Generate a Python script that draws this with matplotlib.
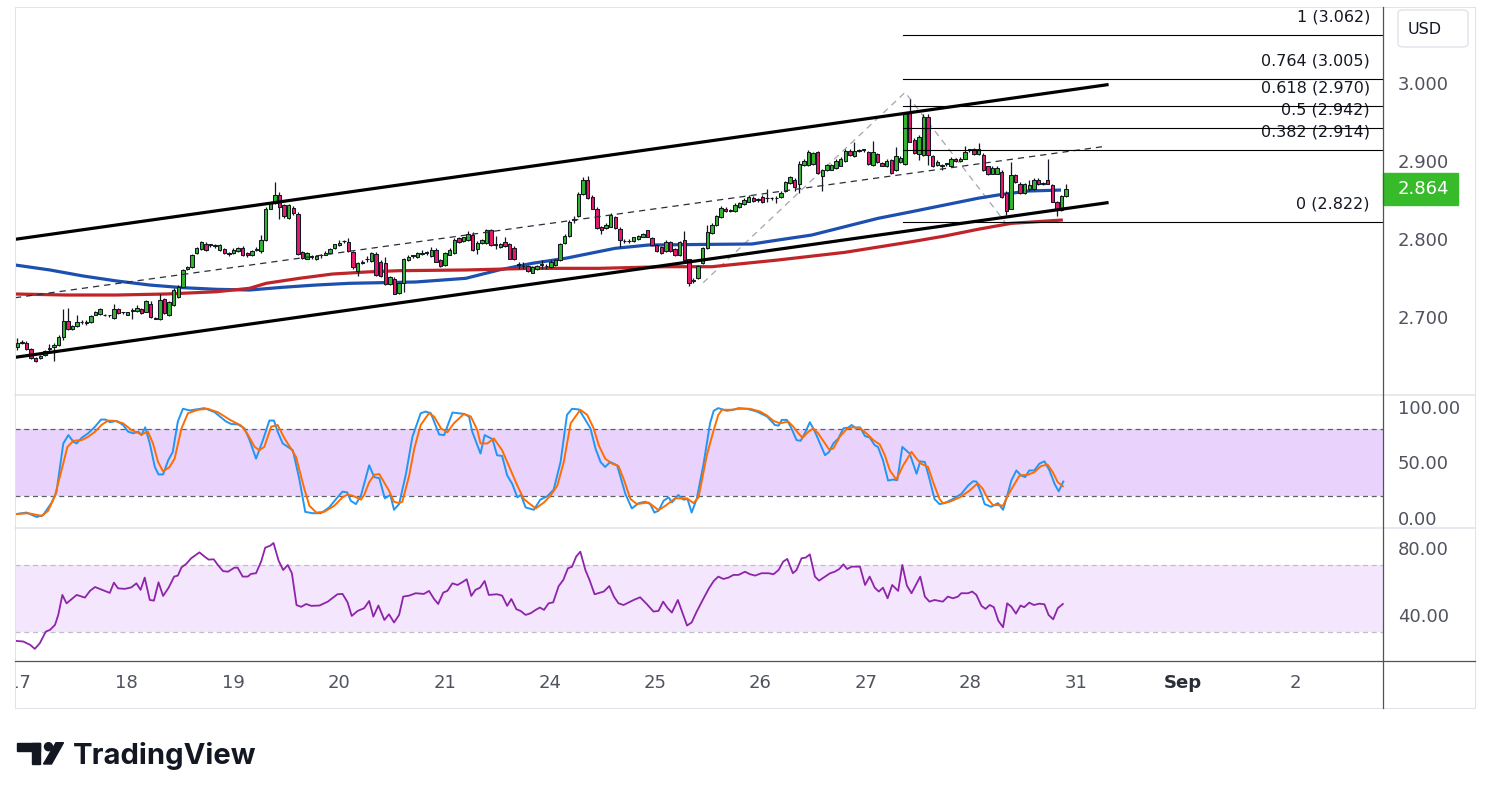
import numpy as np
import matplotlib.pyplot as plt
from matplotlib.patches import Rectangle, FancyBboxPatch, Ellipse, Polygon
from matplotlib.lines import Line2D
from matplotlib.transforms import blended_transform_factory, Bbox, TransformedBbox

W, H = 1491, 799

# hourly candles, Aug 17 -> Aug 28
opens = [2.662, 2.667, 2.667, 2.659, 2.648, 2.648, 2.651, 2.659, 2.661, 2.664,
         2.675, 2.695, 2.684, 2.688, 2.694, 2.692, 2.693, 2.703, 2.704, 2.703,
         2.702, 2.699, 2.710, 2.706, 2.703, 2.708, 2.708, 2.710, 2.707, 2.717,
         2.699, 2.697, 2.723, 2.702, 2.715, 2.726, 2.739, 2.761, 2.764, 2.782,
         2.787, 2.793, 2.792, 2.791, 2.786, 2.787, 2.781, 2.782, 2.784, 2.789,
         2.782, 2.779, 2.786, 2.784, 2.799, 2.839, 2.846, 2.857, 2.843, 2.827,
         2.840, 2.832, 2.783, 2.775, 2.777, 2.774, 2.779, 2.780, 2.782, 2.788,
         2.792, 2.797, 2.796, 2.783, 2.759, 2.769, 2.774, 2.772, 2.781, 2.771,
         2.769, 2.742, 2.749, 2.731, 2.743, 2.773, 2.778, 2.777, 2.781, 2.782,
         2.778, 2.786, 2.773, 2.767, 2.780, 2.782, 2.801, 2.797, 2.799, 2.805,
         2.787, 2.795, 2.795, 2.811, 2.792, 2.790, 2.796, 2.793, 2.789, 2.767,
         2.765, 2.765, 2.757, 2.761, 2.767, 2.765, 2.764, 2.767, 2.773, 2.795,
         2.804, 2.825, 2.829, 2.858, 2.876, 2.854, 2.839, 2.815, 2.814, 2.816,
         2.828, 2.813, 2.797, 2.797, 2.797, 2.800, 2.803, 2.811, 2.801, 2.792,
         2.790, 2.784, 2.796, 2.787, 2.779, 2.799, 2.774, 2.746, 2.750, 2.769,
         2.788, 2.808, 2.818, 2.828, 2.839, 2.836, 2.836, 2.841, 2.845, 2.848,
         2.853, 2.850, 2.854, 2.852, 2.852, 2.852, 2.854, 2.861, 2.872, 2.876,
         2.870, 2.895, 2.895, 2.896, 2.911, 2.881, 2.888, 2.889, 2.891, 2.894,
         2.900, 2.913, 2.906, 2.913, 2.914, 2.911, 2.895, 2.909, 2.898, 2.893,
         2.901, 2.888, 2.899, 2.896, 2.963, 2.927, 2.909, 2.908, 2.957, 2.906,
         2.895, 2.894, 2.896, 2.893, 2.903, 2.900, 2.903, 2.914, 2.916, 2.909,
         2.908, 2.893, 2.884, 2.884, 2.886, 2.859, 2.839, 2.882, 2.871, 2.859,
         2.864, 2.864, 2.876, 2.871, 2.876, 2.869, 2.848, 2.837, 2.855]
highs = [2.673, 2.670, 2.669, 2.660, 2.649, 2.651, 2.658, 2.666, 2.667, 2.677,
         2.710, 2.712, 2.690, 2.702, 2.696, 2.696, 2.703, 2.708, 2.712, 2.704,
         2.703, 2.717, 2.711, 2.707, 2.707, 2.711, 2.715, 2.712, 2.722, 2.720,
         2.700, 2.729, 2.725, 2.721, 2.737, 2.741, 2.762, 2.766, 2.781, 2.790,
         2.798, 2.796, 2.794, 2.793, 2.794, 2.789, 2.783, 2.788, 2.790, 2.791,
         2.783, 2.786, 2.790, 2.805, 2.841, 2.848, 2.873, 2.860, 2.845, 2.845,
         2.842, 2.834, 2.784, 2.783, 2.779, 2.779, 2.781, 2.784, 2.789, 2.794,
         2.799, 2.799, 2.801, 2.784, 2.771, 2.773, 2.778, 2.783, 2.783, 2.773,
         2.777, 2.753, 2.751, 2.745, 2.776, 2.779, 2.780, 2.783, 2.786, 2.784,
         2.790, 2.788, 2.775, 2.783, 2.788, 2.801, 2.802, 2.803, 2.810, 2.809,
         2.797, 2.800, 2.813, 2.813, 2.804, 2.795, 2.802, 2.795, 2.791, 2.771,
         2.770, 2.767, 2.766, 2.767, 2.773, 2.768, 2.773, 2.775, 2.795, 2.806,
         2.824, 2.829, 2.860, 2.880, 2.881, 2.856, 2.841, 2.817, 2.820, 2.833,
         2.830, 2.815, 2.800, 2.800, 2.803, 2.805, 2.808, 2.812, 2.802, 2.793,
         2.791, 2.799, 2.797, 2.788, 2.797, 2.810, 2.775, 2.750, 2.767, 2.790,
         2.818, 2.820, 2.831, 2.842, 2.841, 2.838, 2.846, 2.848, 2.852, 2.856,
         2.855, 2.852, 2.856, 2.864, 2.854, 2.855, 2.861, 2.875, 2.881, 2.878,
         2.900, 2.902, 2.914, 2.912, 2.913, 2.890, 2.896, 2.896, 2.902, 2.905,
         2.915, 2.915, 2.925, 2.916, 2.916, 2.913, 2.926, 2.910, 2.899, 2.902,
         2.903, 2.918, 2.906, 2.963, 2.979, 2.929, 2.933, 2.960, 2.960, 2.908,
         2.901, 2.896, 2.898, 2.905, 2.904, 2.905, 2.919, 2.916, 2.917, 2.923,
         2.910, 2.894, 2.893, 2.893, 2.888, 2.861, 2.899, 2.884, 2.873, 2.872,
         2.876, 2.878, 2.878, 2.873, 2.903, 2.871, 2.849, 2.857, 2.870]
lows = [2.658, 2.665, 2.658, 2.646, 2.642, 2.646, 2.650, 2.655, 2.643, 2.663,
        2.670, 2.683, 2.683, 2.687, 2.691, 2.690, 2.692, 2.702, 2.703, 2.701,
        2.700, 2.698, 2.704, 2.704, 2.702, 2.697, 2.707, 2.704, 2.706, 2.699,
        2.697, 2.696, 2.704, 2.701, 2.714, 2.725, 2.738, 2.760, 2.763, 2.781,
        2.786, 2.785, 2.790, 2.789, 2.785, 2.781, 2.778, 2.781, 2.783, 2.778,
        2.777, 2.778, 2.784, 2.782, 2.798, 2.838, 2.845, 2.826, 2.827, 2.826,
        2.831, 2.780, 2.775, 2.774, 2.775, 2.773, 2.776, 2.779, 2.781, 2.787,
        2.791, 2.795, 2.783, 2.762, 2.752, 2.768, 2.770, 2.771, 2.753, 2.751,
        2.741, 2.741, 2.729, 2.730, 2.732, 2.772, 2.776, 2.776, 2.780, 2.780,
        2.777, 2.770, 2.764, 2.766, 2.779, 2.781, 2.795, 2.796, 2.798, 2.785,
        2.781, 2.794, 2.794, 2.791, 2.787, 2.789, 2.790, 2.774, 2.773, 2.761,
        2.762, 2.758, 2.756, 2.760, 2.762, 2.762, 2.763, 2.766, 2.772, 2.794,
        2.803, 2.821, 2.828, 2.857, 2.851, 2.838, 2.813, 2.806, 2.813, 2.815,
        2.813, 2.790, 2.795, 2.795, 2.796, 2.799, 2.802, 2.802, 2.791, 2.783,
        2.781, 2.783, 2.783, 2.778, 2.778, 2.772, 2.740, 2.743, 2.749, 2.768,
        2.787, 2.807, 2.817, 2.827, 2.835, 2.834, 2.835, 2.840, 2.844, 2.847,
        2.847, 2.848, 2.846, 2.848, 2.850, 2.846, 2.853, 2.860, 2.871, 2.861,
        2.859, 2.894, 2.894, 2.895, 2.884, 2.861, 2.887, 2.888, 2.890, 2.893,
        2.899, 2.907, 2.905, 2.911, 2.912, 2.895, 2.894, 2.898, 2.893, 2.892,
        2.884, 2.887, 2.898, 2.895, 2.924, 2.909, 2.901, 2.907, 2.895, 2.892,
        2.894, 2.888, 2.894, 2.892, 2.899, 2.899, 2.902, 2.912, 2.908, 2.908,
        2.887, 2.882, 2.883, 2.883, 2.853, 2.831, 2.838, 2.872, 2.858, 2.858,
        2.862, 2.863, 2.869, 2.869, 2.870, 2.847, 2.829, 2.836, 2.854]
closes = [2.667, 2.668, 2.659, 2.647, 2.643, 2.650, 2.656, 2.660, 2.664, 2.675,
          2.695, 2.685, 2.688, 2.694, 2.693, 2.693, 2.701, 2.706, 2.710, 2.702,
          2.702, 2.710, 2.705, 2.706, 2.706, 2.709, 2.712, 2.705, 2.720, 2.700,
          2.698, 2.722, 2.705, 2.719, 2.735, 2.739, 2.760, 2.764, 2.779, 2.788,
          2.796, 2.786, 2.792, 2.791, 2.792, 2.782, 2.781, 2.786, 2.788, 2.779,
          2.779, 2.784, 2.786, 2.799, 2.839, 2.846, 2.856, 2.841, 2.829, 2.843,
          2.833, 2.781, 2.776, 2.782, 2.777, 2.778, 2.779, 2.782, 2.787, 2.793,
          2.795, 2.797, 2.784, 2.764, 2.769, 2.771, 2.774, 2.782, 2.754, 2.752,
          2.742, 2.751, 2.730, 2.743, 2.774, 2.777, 2.778, 2.782, 2.781, 2.782,
          2.786, 2.771, 2.765, 2.782, 2.786, 2.799, 2.796, 2.802, 2.807, 2.786,
          2.795, 2.799, 2.811, 2.792, 2.792, 2.793, 2.791, 2.775, 2.775, 2.767,
          2.765, 2.759, 2.764, 2.765, 2.767, 2.765, 2.771, 2.773, 2.793, 2.804,
          2.822, 2.826, 2.858, 2.876, 2.852, 2.839, 2.814, 2.811, 2.818, 2.831,
          2.814, 2.799, 2.797, 2.797, 2.802, 2.804, 2.807, 2.803, 2.792, 2.784,
          2.782, 2.796, 2.784, 2.779, 2.796, 2.773, 2.743, 2.747, 2.765, 2.788,
          2.809, 2.818, 2.829, 2.840, 2.836, 2.836, 2.844, 2.846, 2.850, 2.854,
          2.849, 2.850, 2.848, 2.852, 2.852, 2.852, 2.859, 2.873, 2.879, 2.867,
          2.896, 2.900, 2.912, 2.910, 2.885, 2.888, 2.895, 2.895, 2.900, 2.903,
          2.913, 2.908, 2.913, 2.913, 2.914, 2.896, 2.911, 2.899, 2.894, 2.900,
          2.885, 2.906, 2.904, 2.961, 2.925, 2.910, 2.931, 2.957, 2.908, 2.893,
          2.899, 2.894, 2.896, 2.903, 2.900, 2.903, 2.912, 2.914, 2.909, 2.915,
          2.888, 2.883, 2.891, 2.891, 2.854, 2.836, 2.882, 2.873, 2.859, 2.870,
          2.869, 2.876, 2.870, 2.871, 2.871, 2.848, 2.837, 2.855, 2.864]
last_price = 2.864

day_labels = ['17', '18', '19', '20', '21', '24', '25', '26', '27', '28', '31', 'Sep', '2']
day_pos = [0.5, 23.8, 46.9, 69.9, 93.0, 115.8, 138.6, 161.5, 184.5, 207.1, 230.2, 253.4, 277.8]

# moving averages (bar, price)
ma_blue = [(-0.5, 2.7667), (7.1, 2.7603), (14.3, 2.7526), (21.6, 2.7462), (28.8, 2.7410),
           (36.0, 2.7376), (43.3, 2.7355), (50.5, 2.7346), (57.7, 2.7381), (64.9, 2.7410),
           (72.2, 2.7432), (86.6, 2.7449), (97.5, 2.7496), (104.7, 2.7603), (111.9, 2.7688),
           (119.2, 2.7753), (130.0, 2.7881), (137.2, 2.7923), (151.7, 2.7932), (159.7, 2.7936),
           (165.4, 2.7987), (172.7, 2.8051), (179.9, 2.8158), (187.1, 2.8265), (194.4, 2.8350),
           (201.6, 2.8436), (208.8, 2.8522), (213.2, 2.8564), (219.7, 2.8615), (226.9, 2.8628)]
ma_red = [(-0.5, 2.7295), (10.7, 2.7282), (21.6, 2.7282), (32.4, 2.7295), (43.3, 2.7324),
          (50.5, 2.7368), (54.1, 2.7432), (61.3, 2.7496), (68.5, 2.7551), (75.8, 2.7577),
          (83.0, 2.7594), (97.5, 2.7603), (111.9, 2.7624), (126.4, 2.7624), (140.9, 2.7645),
          (151.0, 2.7645), (165.4, 2.7731), (179.9, 2.7829), (194.4, 2.7965), (201.6, 2.8038),
          (208.8, 2.8124), (216.1, 2.8201), (227.3, 2.8244)]

# drawings
chan_x = [-0.5, 236.9]
chan_upper = [2.7996, 2.9978]
chan_mid = [2.7247, 2.9192]
chan_lower = [2.6483, 2.8465]
swing_x = [149.1, 193.0, 214.7]
swing_y = [2.744, 2.988, 2.822]
fib_ratios = ['1', '0.764', '0.618', '0.5', '0.382', '0']
fib_low, fib_high = 2.822, 3.062
fib_from = 192.5

# stochastic %K / %D and RSI (bar, value)
stoch_k = [(-0.5, 3.3), (2.0, 4.8), (4.2, 0.8), (5.6, 2.4), (7.5, 13.9), (8.5, 23.0), (10.0, 67.0),
           (11.1, 74.5), (12.2, 68.5), (12.9, 67.0), (14.0, 72.1), (15.4, 76.1), (16.9, 82.1),
           (18.2, 88.5), (19.2, 88.5), (20.1, 86.1), (21.6, 87.3), (23.0, 83.6), (24.1, 77.6),
           (25.2, 76.1), (26.3, 77.6), (27.0, 74.5), (27.8, 81.5), (28.8, 67.0), (29.9, 45.8),
           (30.7, 39.1), (31.7, 39.1), (32.8, 51.8), (33.8, 59.4), (34.9, 86.7), (36.0, 98.2),
           (37.5, 96.7), (40.7, 98.8), (42.9, 95.1), (45.4, 86.7), (46.5, 84.5), (47.9, 84.2),
           (49.4, 80.6), (50.5, 70.0), (51.9, 53.3), (53.4, 70.0), (54.8, 87.6), (55.8, 87.6),
           (56.6, 77.6), (57.7, 67.0), (58.8, 63.9), (59.9, 60.9), (61.3, 35.1), (62.6, 5.4),
           (64.2, 4.2), (66.0, 4.2), (67.8, 9.4), (69.3, 17.0), (70.7, 23.6), (71.7, 23.0),
           (72.5, 15.4), (73.6, 12.4), (74.7, 20.0), (75.4, 30.6), (76.5, 47.3), (77.6, 36.7),
           (78.7, 35.7), (79.9, 17.6), (81.1, 20.6), (81.9, 7.3), (83.0, 12.4), (84.5, 39.7),
           (85.9, 73.0), (87.7, 94.2), (88.8, 95.7), (89.9, 94.2), (90.6, 86.7), (91.7, 75.1),
           (92.8, 74.5), (94.6, 94.8), (97.1, 93.6), (98.2, 91.2), (98.9, 77.6), (100.7, 57.9),
           (101.6, 74.5), (103.3, 70.9), (104.3, 56.4), (105.4, 55.7), (106.5, 38.2), (107.6, 30.6),
           (108.7, 18.5), (109.5, 20.6), (110.5, 9.4), (112.3, 7.3), (113.7, 16.4), (115.2, 19.4),
           (116.6, 25.4), (118.1, 50.3), (119.5, 92.7), (120.6, 98.2), (122.1, 97.6), (123.5, 88.2),
           (124.6, 80.6), (125.7, 62.4), (126.8, 50.3), (127.8, 45.8), (128.9, 50.3), (130.4, 47.3),
           (132.2, 21.5), (133.6, 8.5), (135.1, 13.3), (136.5, 14.5), (137.6, 12.4), (138.5, 4.8),
           (139.4, 6.4), (140.5, 15.4), (141.6, 18.5), (142.3, 13.9), (143.7, 20.6), (144.8, 16.4),
           (145.7, 17.0), (146.6, 4.8), (147.7, 17.0), (149.2, 48.8), (150.6, 85.1), (151.4, 96.4),
           (152.4, 98.8), (154.2, 96.4), (155.7, 97.3), (156.8, 98.8), (158.6, 98.2), (160.8, 95.7),
           (163.0, 91.2), (164.7, 83.6), (165.5, 83.0), (166.2, 88.2), (167.3, 88.2), (168.3, 80.6),
           (169.4, 70.0), (170.3, 69.4), (171.2, 76.1), (172.3, 86.1), (173.4, 77.6), (174.5, 67.0),
           (175.6, 56.4), (176.5, 59.4), (177.4, 67.0), (178.5, 71.5), (179.6, 80.6), (180.6, 81.2),
           (181.4, 83.6), (182.1, 81.2), (183.2, 81.5), (184.3, 73.6), (185.3, 72.4), (186.4, 65.4),
           (187.1, 63.9), (188.2, 51.8), (189.3, 33.6), (190.4, 34.5), (191.3, 33.9), (192.4, 63.9),
           (194.0, 57.9), (195.5, 39.7), (196.3, 50.9), (197.3, 50.3), (198.3, 35.1), (199.4, 17.0),
           (200.5, 12.4), (201.6, 13.3), (203.4, 17.0), (205.2, 21.5), (206.7, 29.1), (207.8, 33.0),
           (208.5, 32.7), (209.6, 21.5), (210.3, 12.4), (211.7, 10.0), (213.2, 13.3), (214.3, 7.3),
           (215.0, 17.0), (216.1, 33.6), (217.2, 42.7), (218.2, 38.2), (219.1, 36.7), (220.0, 42.7),
           (221.1, 42.7), (222.2, 48.8), (223.3, 50.9), (224.4, 42.7), (225.5, 30.6), (226.4, 23.9),
           (227.4, 32.7)]
stoch_d = [(-0.5, 3.3), (2.4, 4.2), (5.3, 1.8), (6.7, 6.4), (8.2, 20.0), (9.6, 42.7), (10.9, 63.9),
           (12.2, 69.4), (14.0, 70.0), (15.4, 73.0), (16.9, 77.6), (18.3, 83.6), (19.7, 87.6),
           (21.2, 87.3), (23.0, 85.1), (24.8, 79.1), (27.0, 75.1), (28.4, 77.6), (29.5, 67.0),
           (30.6, 50.3), (31.7, 41.8), (33.1, 45.8), (34.2, 53.3), (35.7, 80.6), (37.1, 94.2),
           (39.3, 97.3), (41.4, 98.2), (43.6, 95.1), (46.5, 87.6), (48.7, 83.0), (50.1, 75.1),
           (51.6, 63.9), (52.6, 60.9), (53.7, 63.9), (55.2, 82.1), (56.6, 83.6), (58.1, 71.5),
           (59.5, 62.4), (60.6, 54.8), (62.4, 26.1), (63.5, 10.9), (65.0, 4.8), (66.7, 5.4),
           (68.9, 10.9), (70.7, 18.5), (71.8, 20.9), (72.9, 20.0), (74.7, 16.4), (75.4, 20.6),
           (76.5, 32.1), (77.6, 38.8), (78.7, 39.4), (79.8, 31.5), (80.8, 24.5), (81.9, 14.5),
           (83.0, 13.3), (83.7, 14.5), (85.2, 38.2), (86.3, 62.4), (87.7, 83.6), (89.5, 94.2),
           (90.6, 91.2), (92.1, 80.6), (93.5, 77.0), (94.9, 85.1), (97.1, 93.6), (98.6, 91.2),
           (100.0, 79.1), (100.7, 67.0), (102.2, 67.0), (103.6, 71.5), (105.4, 60.9), (106.5, 50.3),
           (107.6, 39.7), (108.7, 29.1), (110.1, 17.0), (111.2, 13.3), (112.7, 8.5), (114.5, 13.9),
           (115.9, 20.0), (117.4, 29.1), (118.8, 50.3), (120.3, 85.1), (122.4, 97.3), (123.9, 92.7),
           (125.3, 80.6), (126.4, 65.4), (127.8, 53.3), (129.3, 48.8), (130.7, 46.7), (131.8, 35.1),
           (133.3, 17.0), (134.7, 12.4), (137.2, 13.9), (139.4, 7.0), (140.9, 10.9), (143.0, 17.6),
           (145.6, 17.6), (147.0, 13.3), (148.1, 18.5), (149.9, 56.4), (151.4, 79.1), (152.4, 92.7),
           (153.2, 97.3), (155.0, 97.3), (157.1, 98.2), (159.3, 98.2), (161.5, 95.7), (163.0, 92.1),
           (164.4, 87.3), (165.8, 85.1), (167.6, 86.7), (168.7, 82.1), (169.8, 76.1), (170.7, 72.1),
           (172.0, 77.6), (173.0, 80.6), (174.1, 76.1), (175.6, 67.0), (176.5, 61.5), (177.4, 62.4),
           (178.8, 73.0), (180.3, 80.0), (181.7, 81.5), (183.2, 80.9), (184.6, 76.1), (186.1, 70.0),
           (187.5, 66.1), (188.6, 56.4), (189.7, 42.7), (191.1, 34.5), (192.6, 47.3), (194.4, 59.4),
           (195.5, 53.3), (196.5, 48.8), (198.0, 45.8), (199.1, 32.1), (200.5, 17.0), (201.2, 13.3),
           (202.7, 14.5), (204.9, 18.5), (207.0, 24.5), (208.8, 31.2), (209.9, 26.1), (211.0, 17.0),
           (212.1, 11.5), (213.5, 11.5), (214.3, 10.9), (215.3, 20.0), (216.8, 30.6), (217.9, 38.2),
           (219.7, 38.8), (221.1, 41.2), (222.6, 46.7), (224.0, 47.9), (225.1, 41.2), (226.2, 32.1),
           (227.3, 28.5)]
rsi = [(-0.5, 24.9), (1.3, 24.5), (2.8, 22.5), (3.8, 20.1), (4.9, 23.5), (6.2, 30.4), (7.1, 31.4),
       (8.2, 34.4), (8.9, 40.3), (9.8, 52.2), (10.7, 47.2), (11.6, 49.2), (12.9, 52.2), (14.7, 50.6),
       (15.8, 54.6), (16.9, 56.9), (20.1, 53.4), (21.0, 59.5), (21.9, 56.1), (23.4, 55.8),
       (24.8, 56.7), (25.9, 59.1), (26.8, 55.2), (27.7, 62.5), (28.8, 49.2), (29.7, 48.8),
       (30.7, 59.7), (31.7, 51.6), (32.9, 56.5), (34.1, 63.1), (34.9, 63.7), (35.7, 68.6),
       (36.7, 70.6), (37.8, 74.0), (39.6, 77.5), (40.7, 75.0), (41.6, 73.2), (42.7, 73.4),
       (43.6, 70.0), (44.7, 66.4), (45.8, 66.0), (47.2, 68.4), (47.9, 68.4), (49.0, 63.1),
       (50.1, 63.1), (50.8, 64.7), (51.9, 65.1), (53.0, 72.0), (53.9, 80.3), (55.0, 81.5),
       (55.7, 83.1), (56.8, 72.6), (57.8, 67.0), (58.8, 70.0), (59.7, 65.1), (60.7, 46.2),
       (61.7, 45.1), (62.8, 46.8), (63.9, 45.7), (65.7, 45.9), (67.5, 48.2), (69.6, 52.6),
       (70.7, 52.8), (71.8, 47.8), (72.7, 39.7), (74.0, 42.7), (75.4, 44.3), (76.5, 48.6),
       (77.4, 39.3), (78.5, 45.9), (79.8, 37.3), (80.8, 40.7), (81.9, 35.8), (83.0, 40.3),
       (83.9, 51.2), (85.2, 51.8), (86.6, 53.2), (88.4, 52.8), (89.5, 54.6), (90.6, 49.8),
       (91.5, 46.8), (92.6, 53.6), (93.5, 54.6), (94.6, 59.1), (95.7, 58.1), (96.7, 59.7),
       (97.7, 61.5), (98.7, 51.6), (99.6, 55.2), (100.6, 56.5), (101.6, 60.5), (102.5, 52.2),
       (104.3, 52.6), (105.4, 51.8), (106.5, 45.7), (107.4, 49.8), (108.5, 43.7), (109.4, 42.7),
       (110.5, 40.3), (111.6, 41.3), (112.7, 43.3), (113.6, 44.7), (114.5, 43.3), (115.5, 47.2),
       (116.5, 47.8), (117.7, 57.5), (118.7, 61.1), (119.7, 68.0), (120.6, 69.0), (121.5, 75.0),
       (122.4, 77.9), (123.5, 67.0), (124.4, 61.1), (125.5, 52.6), (127.5, 54.2), (128.7, 57.5),
       (129.7, 51.2), (130.7, 47.2), (131.8, 46.2), (134.0, 49.2), (135.4, 50.8), (136.9, 46.6),
       (138.3, 42.3), (139.4, 42.7), (140.4, 48.2), (141.4, 44.3), (142.3, 41.7), (143.6, 49.2),
       (144.5, 42.3), (145.6, 34.0), (146.6, 35.8), (147.7, 42.3), (149.2, 50.2), (150.3, 55.8),
       (151.4, 60.5), (152.4, 63.1), (153.5, 61.7), (154.6, 62.5), (155.7, 64.1), (156.8, 64.1),
       (158.2, 66.0), (159.3, 64.5), (160.4, 63.7), (161.8, 65.1), (163.3, 65.1), (164.4, 64.5),
       (165.5, 67.0), (166.5, 72.0), (167.4, 73.6), (168.6, 65.1), (169.4, 67.0), (170.5, 74.0),
       (171.4, 74.4), (172.3, 76.3), (173.4, 63.1), (174.3, 60.7), (175.6, 63.1), (176.7, 65.1),
       (177.7, 66.0), (178.7, 67.6), (179.6, 70.4), (180.4, 67.6), (181.4, 69.0), (183.2, 69.0),
       (184.3, 58.1), (185.3, 63.1), (186.4, 56.5), (187.3, 54.2), (188.2, 56.5), (189.2, 50.2),
       (190.2, 58.1), (191.5, 54.6), (192.4, 70.0), (193.4, 57.7), (194.4, 53.2), (196.3, 63.1),
       (197.3, 51.2), (198.3, 48.2), (199.4, 49.2), (201.2, 48.2), (202.3, 51.2), (203.4, 50.2),
       (204.5, 51.2), (205.2, 53.2), (206.7, 53.2), (207.6, 54.2), (208.5, 52.2), (209.6, 45.7),
       (210.5, 43.9), (211.4, 46.2), (212.3, 44.9), (213.3, 36.7), (214.3, 33.0), (215.2, 47.2),
       (216.1, 45.2), (217.1, 41.1), (218.1, 45.9), (218.9, 44.9), (220.0, 47.6), (221.0, 46.2),
       (222.2, 47.0), (223.3, 46.6), (224.2, 40.3), (225.2, 37.7), (226.2, 44.3), (227.3, 46.8)]

GREEN = '#33b52f'
PINK = '#e8196b'
INK = '#131722'
AXIS_TXT = '#50535e'
FRAME = '#e0e3eb'


def fig_box(x0, y0, x1, y1):
    # pixel box (origin top-left) -> [left, bottom, width, height] in figure fraction
    return [x0 / W, 1 - y1 / H, (x1 - x0) / W, (y1 - y0) / H]


def fig_line(xs, ys, color, lw=0.75):
    fig.add_artist(Line2D([x / W for x in xs], [1 - y / H for y in ys],
                          color=color, lw=lw, zorder=20))


fig = plt.figure(figsize=(W / 100, H / 100), dpi=100)
fig.patch.set_facecolor('white')

ax = fig.add_axes(fig_box(15, 8, 1383, 395))
ax_st = fig.add_axes(fig_box(15, 395, 1383, 528), sharex=ax)
ax_rsi = fig.add_axes(fig_box(15, 528, 1383, 661), sharex=ax)

for a in (ax, ax_st, ax_rsi):
    for s in a.spines.values():
        s.set_visible(False)
    a.yaxis.tick_right()
    a.tick_params(axis='y', length=0, pad=10.5, labelsize=13, labelcolor=AXIS_TXT)
    a.tick_params(axis='x', length=0, labelbottom=False)
ax.set_xlim(-0.5, 296.9)

## price pane
ax.set_ylim(2.6, 3.0962)
ax.set_yticks([2.7, 2.8, 2.9, 3.0])
ax.set_yticklabels(['%.3f' % v for v in [2.7, 2.8, 2.9, 3.0]])

x = np.arange(len(closes))
o, h, l, c = (np.array(v) for v in (opens, highs, lows, closes))
up = c >= o
ax.vlines(x, l, h, color=INK, lw=0.9, zorder=5)
ax.bar(x, np.maximum(np.abs(c - o), 0.001), 0.72, np.minimum(o, c),
       color=np.where(up, GREEN, PINK), edgecolor=INK, lw=0.75, zorder=6)

bx, by = zip(*ma_blue)
ax.plot(bx, by, color='#1c4fae', lw=2.3, zorder=4, solid_capstyle='butt')
rx, ry = zip(*ma_red)
ax.plot(rx, ry, color='#bf2428', lw=2.3, zorder=4, solid_capstyle='butt')

ax.plot(chan_x, chan_upper, color='black', lw=2.3, zorder=7)
ax.plot(chan_x, chan_lower, color='black', lw=2.3, zorder=7)
ax.plot(chan_x, chan_mid, color='#2a2e39', lw=0.9, ls=(0, (5, 4)), zorder=7)
ax.plot(swing_x, swing_y, color='#a3a6af', lw=0.9, ls=(0, (5, 4)), zorder=3)

for r in fib_ratios:
    lvl = fib_low + float(r) * (fib_high - fib_low)
    ax.plot([fib_from, 296.9], [lvl, lvl], color='black', lw=0.8, zorder=7)
    ax.annotate('%s (%.3f)' % (r, lvl), xy=((1370 - 15) / 1368, lvl),
                xycoords=('axes fraction', 'data'), xytext=(0, 13),
                textcoords='offset points', ha='right', va='center',
                fontsize=11.5, color=INK)

# last price tag
tr = blended_transform_factory(ax.transAxes, ax.transData)
tag_h = 32 / 780.0
ax.add_patch(Rectangle((1.0, last_price - tag_h / 2), 75 / 1368, tag_h, transform=tr,
                       color='#37bb2a', clip_on=False, zorder=10))
ax.text((1398 - 15) / 1368, last_price, '%.3f' % last_price, transform=tr,
        color='white', fontsize=13, va='center', ha='left', zorder=11)

## stochastic pane
ax_st.set_ylim(-9.1, 110.6)
ax_st.set_yticks([0, 50, 100])
ax_st.set_yticklabels(['0.00', '50.00', '100.00'])
ax_st.axhspan(20, 80, color='#e9d3fc', lw=0, zorder=0)
for lvl in (20, 80):
    ax_st.axhline(lvl, color='#5d606b', lw=0.9, ls=(0, (4, 3)), zorder=1)
kx, ky = zip(*stoch_k)
ax_st.plot(kx, ky, color='#2196f3', lw=1.4, zorder=3)
dx, dy = zip(*stoch_d)
ax_st.plot(dx, dy, color='#ff6d00', lw=1.4, zorder=3)

## rsi pane
ax_rsi.set_ylim(12.9, 92.0)
ax_rsi.set_yticks([40, 80])
ax_rsi.set_yticklabels(['40.00', '80.00'])
ax_rsi.axhspan(30, 70, color='#f3e6fd', lw=0, zorder=0)
for lvl in (30, 70):
    ax_rsi.axhline(lvl, color='#bdbfc6', lw=0.9, ls=(0, (4, 3)), zorder=1)
qx, qy = zip(*rsi)
ax_rsi.plot(qx, qy, color='#8e24aa', lw=1.3, zorder=3)

ax_rsi.set_xticks(day_pos)
ax_rsi.set_xticklabels(day_labels)
ax_rsi.tick_params(axis='x', labelbottom=True, pad=9.5, labelsize=13, labelcolor=AXIS_TXT)
clip = TransformedBbox(Bbox([[15.5 / W, 0], [1, 1]]), fig.transFigure)
for lbl in ax_rsi.get_xticklabels():
    if lbl.get_text() == 'Sep':
        lbl.set_fontweight('bold')
        lbl.set_color('#2a2e39')
    lbl.set_clip_box(clip)
    lbl.set_clip_on(True)

## frame and separators
fig_line([15, 1475], [7, 7], FRAME)
fig_line([15, 1475], [708, 708], FRAME)
fig_line([15, 15], [7, 708], FRAME)
fig_line([1475, 1475], [7, 708], FRAME)
fig_line([15, 1475], [395, 395], FRAME, lw=1.1)
fig_line([15, 1475], [528, 528], FRAME, lw=1.1)
fig_line([15, 1475], [661, 661], '#50535e', lw=0.9)
fig_line([1383, 1383], [7, 708], '#50535e', lw=0.9)

# currency box
fig.add_artist(FancyBboxPatch((1398 / W, 1 - 47 / H), 70 / W, 37 / H,
                              boxstyle='round,pad=0,rounding_size=0.004',
                              transform=fig.transFigure, fc='white', ec=FRAME, lw=1, zorder=20))
fig.text(1408 / W, 1 - 29 / H, 'USD', fontsize=11.5, color=INK, va='center', ha='left', zorder=21)

## TradingView logo
fig.add_artist(Rectangle((17.3 / W, 1 - 750.7 / H), 22.7 / W, 8 / H,
                         transform=fig.transFigure, color=INK))
fig.add_artist(Rectangle((31.7 / W, 1 - 764 / H), 8.3 / W, 21.3 / H,
                         transform=fig.transFigure, color=INK))
fig.add_artist(Ellipse((48.5 / W, 1 - 746.7 / H), 8.0 / W, 8.0 / H,
                       transform=fig.transFigure, color=INK))
fig.add_artist(Polygon([(43.5 / W, 1 - 764 / H), (51.5 / W, 1 - 764 / H),
                        (63.5 / W, 1 - 742.7 / H), (56 / W, 1 - 742.7 / H)],
                       closed=True, transform=fig.transFigure, color=INK))
fig.text(73 / W, 1 - 764 / H, 'TradingView', fontsize=21, fontweight='bold',
         family=['Inter', 'DejaVu Sans'], color=INK, va='baseline', ha='left')

fig.savefig('out.png', dpi=100, facecolor='white')
